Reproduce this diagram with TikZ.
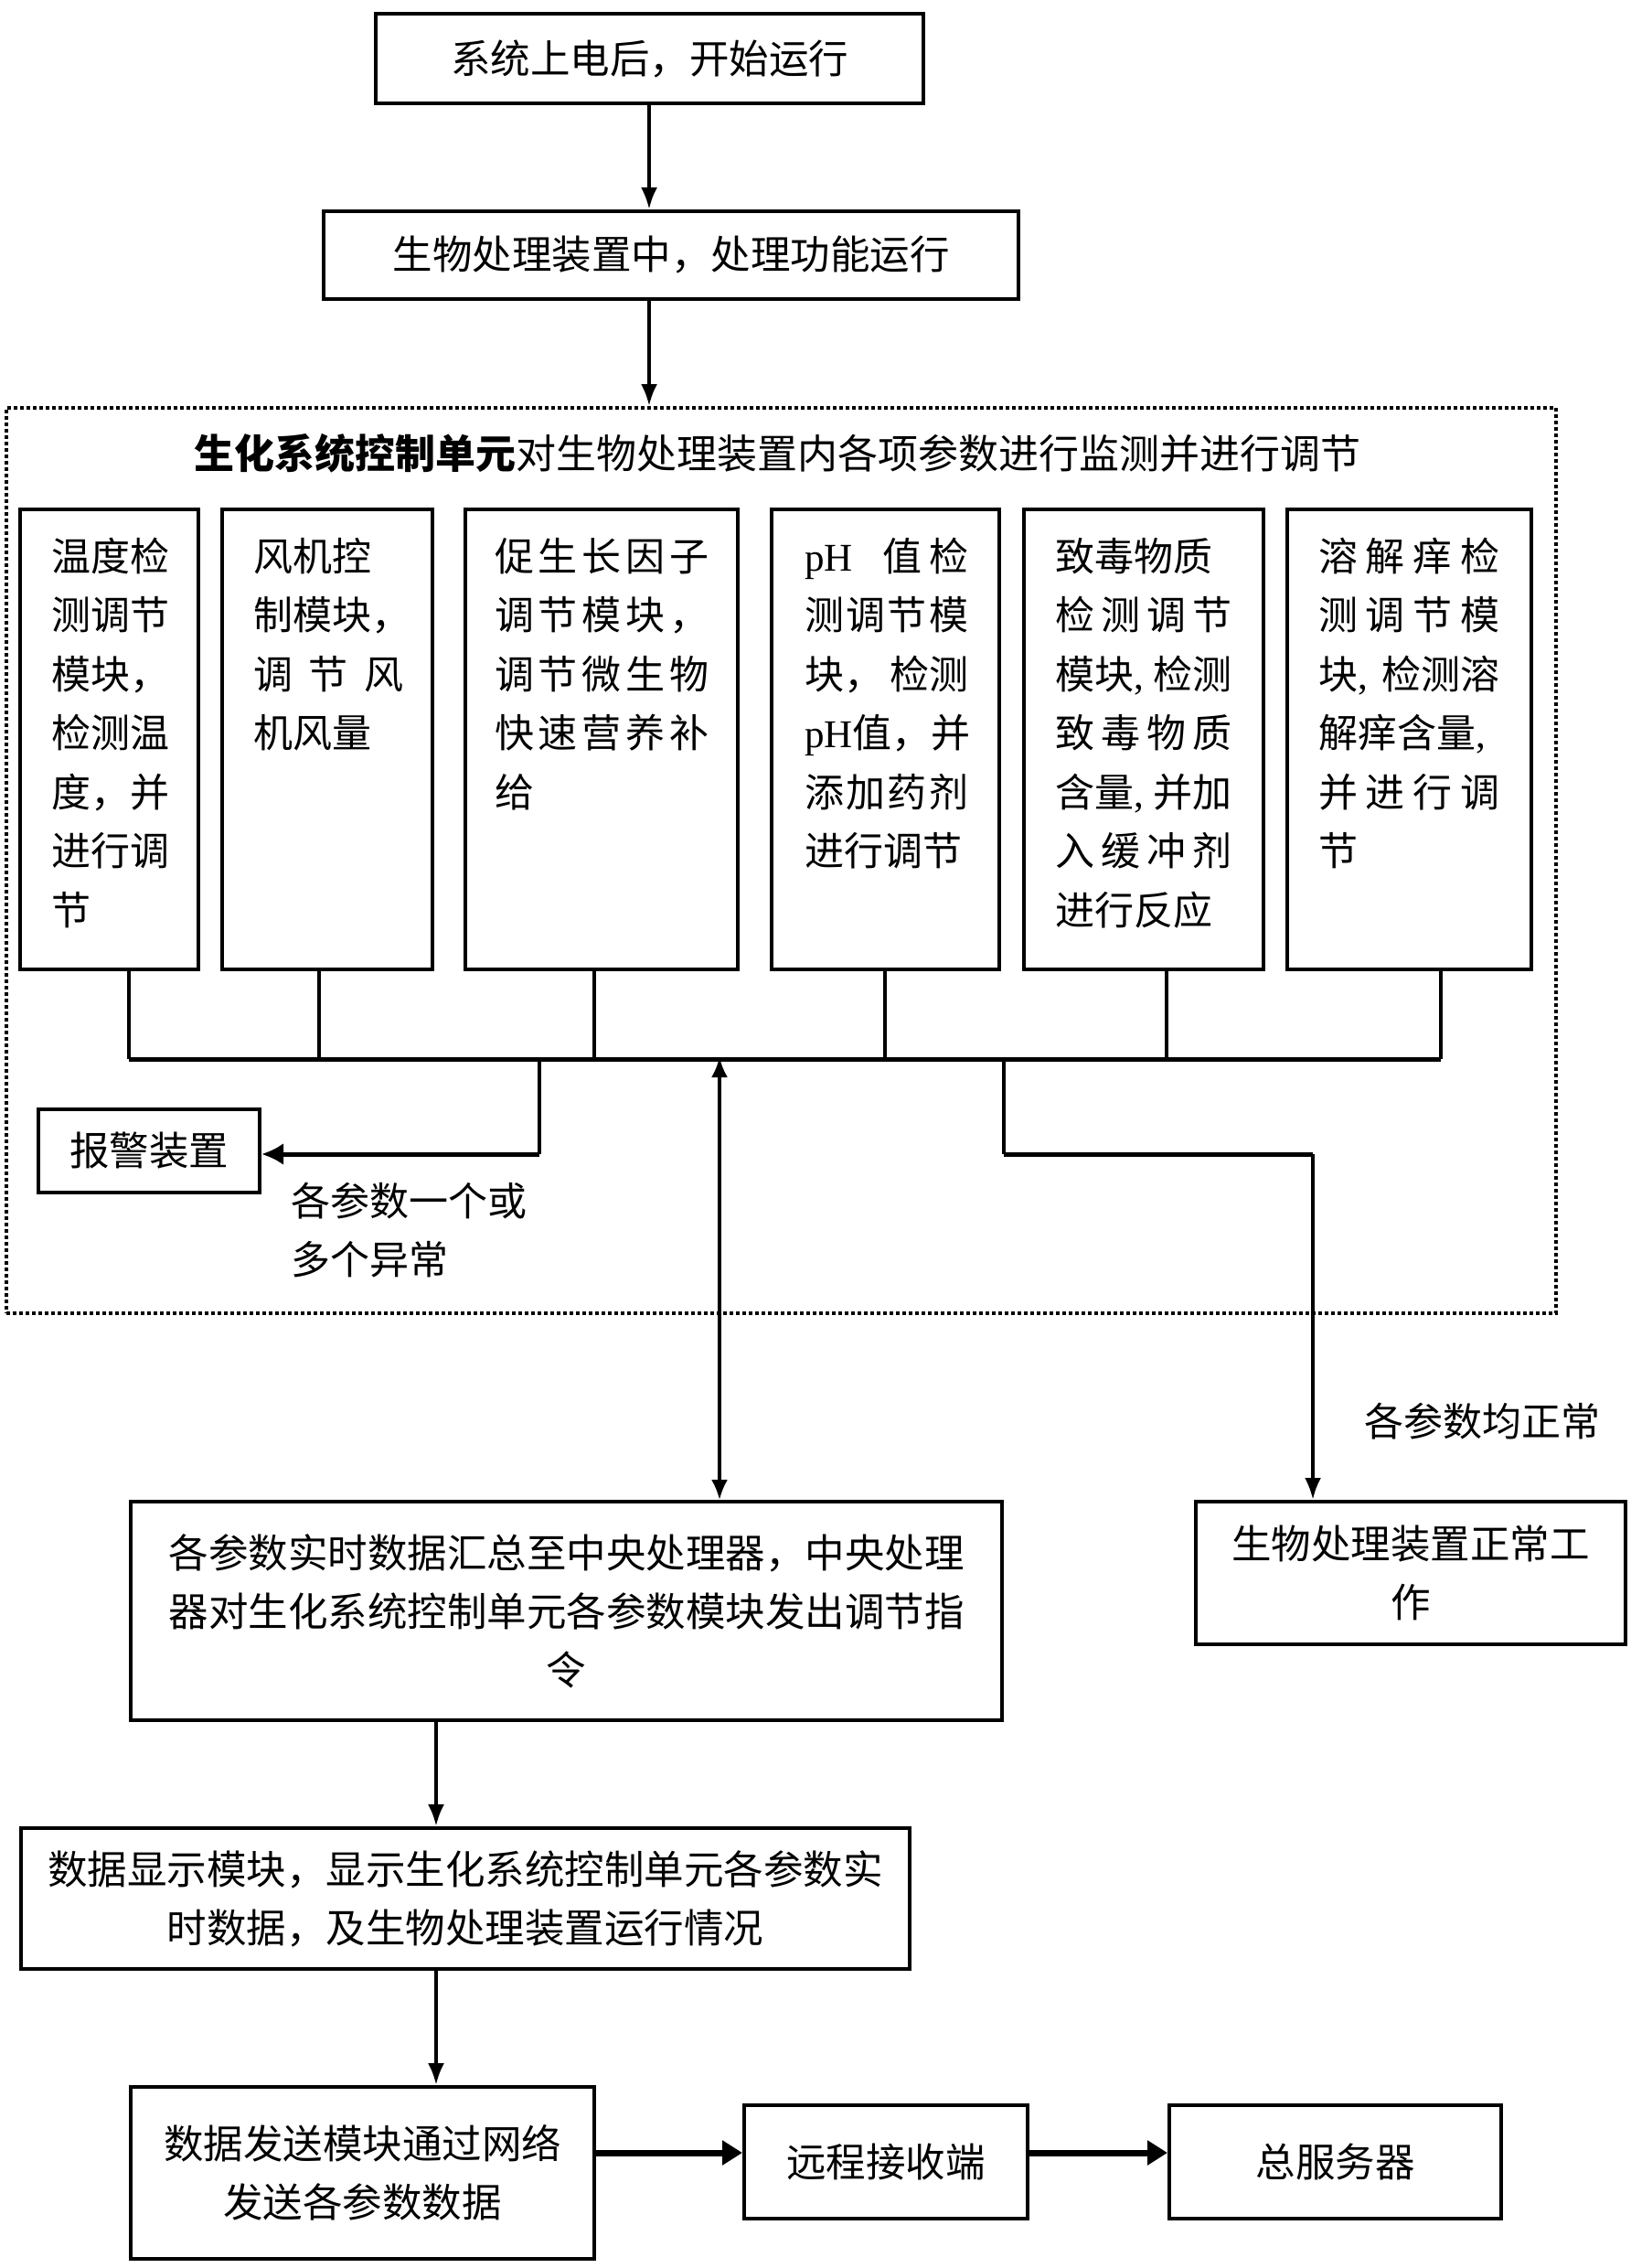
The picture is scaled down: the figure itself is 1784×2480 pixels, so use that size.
\documentclass[tikz,border=0pt]{standalone}
\usepackage{fontspec}
\setmainfont{Noto Sans CJK SC}
\newfontfamily\tnr{Liberation Serif}
\usetikzlibrary{arrows.meta}
\newcommand\JL[2]{\leavevmode\hbox to #1pt{#2}}
\newcommand\mtext[1]{\parbox[t]{300pt}{\fontsize{43}{64.5}\selectfont #1}}
\begin{document}
\begin{tikzpicture}[x=1pt,y=-1pt,
  box/.style={draw, line width=4pt, inner sep=0pt, align=center, font=\fontsize{43.5}{64}\selectfont},
  mod/.style={draw, line width=4.5pt, inner sep=0pt, minimum height=503pt},
  txt/.style={inner sep=0pt, anchor=base west},
  ln/.style={line width=3.2pt},
  hl/.style={line width=5pt},
  arr/.style={line width=4pt, -{Latex[length=24pt,width=18pt]}},
  dbl/.style={line width=3.5pt, {Latex[length=22pt,width=18pt]}-{Latex[length=22pt,width=18pt]}},
  harr/.style={line width=5pt, -{Latex[length=24pt,width=24pt]}},
  barr/.style={line width=7pt, -{Triangle[length=22pt,width=26pt]}},
]
\useasboundingbox (0,0) rectangle (1784,2480);

% top boxes
\node[box, minimum width=599pt, minimum height=98pt] (b1) at (710.5,64) {系统上电后，开始运行};
\node[box, minimum width=760pt, minimum height=96pt] (b2) at (734,279) {生物处理装置中，处理功能运行};

% dotted frame
\node[draw, dash pattern=on 4pt off 3pt, line width=4pt, minimum width=1695pt, minimum height=990pt, inner sep=0pt] (frame) at (854.5,941) {};
\node[inner sep=0pt] (title) at (850,496) {\fontsize{44}{50}\selectfont{\bfseries 生化系统控制单元}对生物处理装置内各项参数进行监测并进行调节};

% module boxes
\node[mod, minimum width=195pt] (mA) at (119.5,808.5) {};
\node[mod, minimum width=230pt] (mB) at (358,808.5) {};
\node[mod, minimum width=298pt] (mC) at (658,808.5) {};
\node[mod, minimum width=249pt] (mD) at (968.5,808.5) {};
\node[mod, minimum width=262pt] (mE) at (1251,808.5) {};
\node[mod, minimum width=267pt] (mF) at (1541.5,808.5) {};

\node[txt] (tA) at (56,624) {\mtext{温度检\\测调节\\模块，\\检测温\\度，并\\进行调\\节}};
\node[txt] (tB) at (277,624) {\mtext{风机控\\制模块，\\\JL{164}{调\hfill 节\hfill 风}\\机风量}};
\node[txt] (tC) at (541,624) {\mtext{\JL{234}{促\hfill 生\hfill 长\hfill 因\hfill 子}\\\JL{234}{调\hfill 节\hfill 模\hfill 块\hfill ，}\\\JL{234}{调\hfill 节\hfill 微\hfill 生\hfill 物}\\\JL{234}{快\hfill 速\hfill 营\hfill 养\hfill 补}\\给}};
\node[txt] (tD) at (880,624) {\mtext{\JL{179}{{\tnr pH}\hspace{33pt}值\hfill 检}\\\JL{179}{测\hfill 调\hfill 节\hfill 模}\\\JL{179}{块，\hfill 检测}\\{\tnr pH}值，并\\\JL{179}{添\hfill 加\hfill 药\hfill 剂}\\进行调节}};
\node[txt] (tE) at (1154,624) {\mtext{致毒物质\\\JL{193}{检\hfill 测\hfill 调\hfill 节}\\\JL{193}{模块{\tnr ,}\hfill 检测}\\\JL{193}{致\hfill 毒\hfill 物\hfill 质}\\\JL{193}{含量{\tnr ,}\hfill 并加}\\\JL{193}{入\hfill 缓\hfill 冲\hfill 剂}\\进行反应}};
\node[txt] (tF) at (1442,624) {\mtext{\JL{198}{溶\hfill 解\hfill 痒\hfill 检}\\\JL{198}{测\hfill 调\hfill 节\hfill 模}\\\JL{198}{块{\tnr ,}\hfill 检测溶}\\解痒含量{\tnr ,}\\\JL{198}{并\hfill 进\hfill 行\hfill 调}\\节}};

% alarm
\node[box, minimum width=242pt, minimum height=91pt] (alarm) at (163,1258.5) {报警装置};
\node[txt] (lab1) at (318,1329) {\mtext{各参数一个或\\多个异常}};

% lower boxes
\node[box, minimum width=953pt, minimum height=239pt] (cpu) at (619.5,1761.5) {各参数实时数据汇总至中央处理器，中央处理\\器对生化系统控制单元各参数模块发出调节指\\令};
\node[box, minimum width=470pt, minimum height=156pt] (ok) at (1543,1720) {生物处理装置正常工\\作};
\node[txt] (lab2) at (1492,1570) {\fontsize{43}{50}\selectfont 各参数均正常};
\node[box, minimum width=972pt, minimum height=154pt] (disp) at (509,2076) {数据显示模块，显示生化系统控制单元各参数实\\时数据，及生物处理装置运行情况};
\node[box, minimum width=507pt, minimum height=188pt] (send) at (396.5,2376) {数据发送模块通过网络\\发送各参数数据};
\node[box, minimum width=310pt, minimum height=124pt] (remote) at (969,2364) {远程接收端};
\node[box, minimum width=363pt, minimum height=124pt] (server) at (1460.5,2364) {总服务器};

% coordinates
\coordinate (xa) at (710,0);
\coordinate (bA) at (141,1158);
\coordinate (bB) at (349,1158);
\coordinate (bC) at (650,1158);
\coordinate (bD) at (968,1158);
\coordinate (bE) at (1276,1158);
\coordinate (bF) at (1576,1158);
\coordinate (bAl) at (590,1158);
\coordinate (bM) at (787,1158);
\coordinate (bR) at (1098,1158);
\coordinate (kR) at (1436,1262);
\coordinate (kA) at (590,1262);
\coordinate (xD) at (477,0);
\coordinate (yS) at (0,2354);

% connectors
\draw[arr] (b1.south -| xa) -- (b2.north -| xa);
\draw[arr] (b2.south -| xa) -- (frame.north -| xa);

\foreach \m/\b in {mA/bA, mB/bB, mC/bC, mD/bD, mE/bE, mF/bF}
  \draw[ln] (\m.south -| \b) -- (\b);
\draw[hl] (bA) -- (bF);

\draw[ln] (bAl) -- (kA);
\draw[harr] (kA) -- (alarm.east |- kA);

\draw[dbl] (cpu.north -| bM) -- ([yshift=2pt]bM);

\draw[ln] (bR) -- (bR |- kR);
\draw[hl] (bR |- kR) -- (kR);
\draw[arr] (kR) -- (ok.north -| kR);

\draw[arr] (cpu.south -| xD) -- (disp.north -| xD);
\draw[arr] (disp.south -| xD) -- (send.north -| xD);
\draw[barr] (send.east |- yS) -- (remote.west |- yS);
\draw[barr] (remote.east |- yS) -- (server.west |- yS);
\end{tikzpicture}
\end{document}
